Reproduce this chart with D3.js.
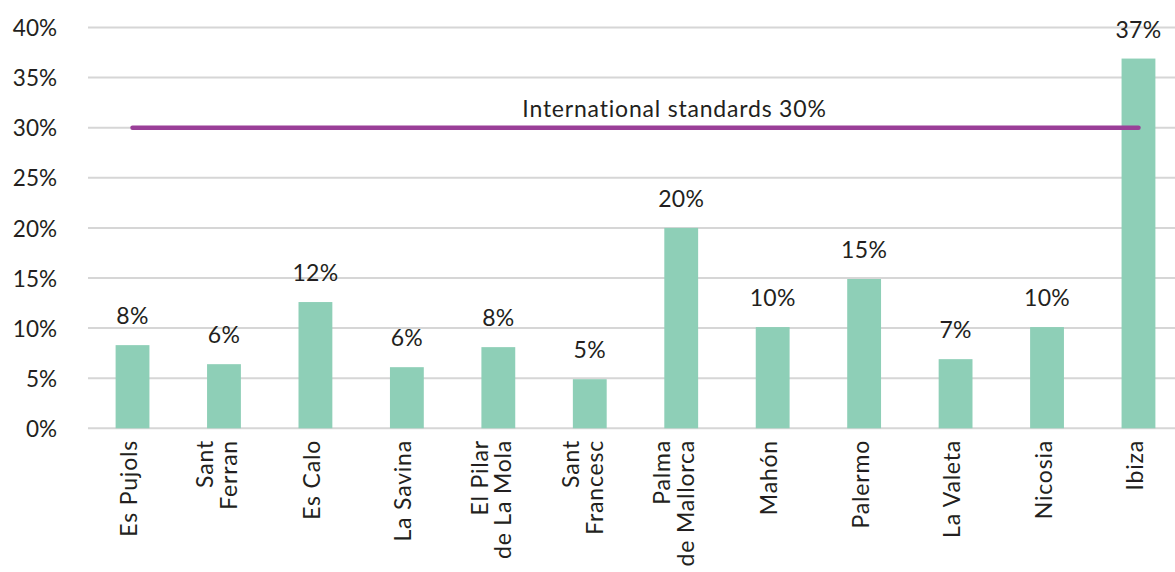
<!DOCTYPE html>
<html>
<head>
<meta charset="utf-8">
<script src="https://cdn.jsdelivr.net/npm/d3@7"></script>
<style>
  html, body { margin: 0; padding: 0; background: #fff; }
  svg { display: block; }
  text { font-family: Lato, "Open Sans", sans-serif; fill: #231f20; }
</style>
</head>
<body>
<svg id="chart" width="1175" height="572"></svg>
<script>
// ---- data ----
const categories = ["Es Pujols", "Sant\nFerran", "Es Calo", "La Savina", "El Pilar\nde La Mola", "Sant\nFrancesc",
                    "Palma\nde Mallorca", "Mahón", "Palermo", "La Valeta", "Nicosia", "Ibiza"];
const values = [8.3, 6.4, 12.6, 6.1, 8.1, 4.9, 20.0, 10.1, 14.9, 6.9, 10.1, 36.9];
const valueLabels = ["8%", "6%", "12%", "6%", "8%", "5%", "20%", "10%", "15%", "7%", "10%", "37%"];
const yTicks = [0, 5, 10, 15, 20, 25, 30, 35, 40];
const standardValue = 30;
const standardLabel = "International standards 30%";

// ---- layout ----
const svg = d3.select("#chart");
const x = d3.scaleBand().domain(categories).range([86.8, 1184.2]).paddingInner(0.63).paddingOuter(0.315);
const y = d3.scaleLinear().domain([0, 40]).range([428.3, 27.5]);

// gridlines
svg.append("g").selectAll("line").data(yTicks).join("line")
  .attr("x1", 88).attr("x2", 1184)
  .attr("y1", d => y(d)).attr("y2", d => y(d))
  .attr("stroke", "#d6d6d6").attr("stroke-width", 2);

// y axis labels
const yAxis = d3.axisLeft(y).tickValues(yTicks).tickFormat(d => d + "%").tickSize(0).tickPadding(0);
const gy = svg.append("g").attr("transform", "translate(57,0)").call(yAxis);
gy.select(".domain").remove();
gy.selectAll("text").style("font-size", "22.5px").style("font-family", "Lato, sans-serif").attr("fill", "#231f20").attr("dy", "0.36em");

// bars
svg.append("g").selectAll("rect").data(values).join("rect")
  .attr("x", (d, i) => x(categories[i]))
  .attr("width", x.bandwidth())
  .attr("y", d => y(d))
  .attr("height", d => y(0) - y(d))
  .attr("fill", "#8ecfb7");

// value labels
svg.append("g").selectAll("text").data(values).join("text")
  .attr("x", (d, i) => x(categories[i]) + x.bandwidth() / 2)
  .attr("y", d => y(d) - 21)
  .attr("text-anchor", "middle")
  .style("font-size", "23px")
  .style("letter-spacing", "0.3px")
  .text((d, i) => valueLabels[i]);

// standard line
const xFirst = x(categories[0]) + x.bandwidth() / 2;
const xLast = x(categories[categories.length - 1]) + x.bandwidth() / 2;
svg.append("line")
  .attr("x1", xFirst).attr("x2", xLast)
  .attr("y1", y(standardValue)).attr("y2", y(standardValue))
  .attr("stroke", "#9a3f98").attr("stroke-width", 4.5).attr("stroke-linecap", "round");
svg.append("text")
  .attr("x", (xFirst + xLast) / 2 + 39)
  .attr("y", y(standardValue) - 10.5)
  .attr("text-anchor", "middle")
  .style("font-size", "23px")
  .style("letter-spacing", "0.8px")
  .text(standardLabel);

// x category labels (rotated)
const lineStep = 23.5;
const gx = svg.append("g");
categories.forEach(c => {
  const lines = c.split("\n");
  const n = lines.length;
  const cx = x(c) + x.bandwidth() / 2;
  lines.forEach((ln, i) => {
    const lx = cx - 3.5 + (i - (n - 1) / 2) * lineStep - (n - 1) * 3.5;
    gx.append("text")
      .attr("transform", `translate(${lx + 8},440) rotate(-90)`)
      .attr("text-anchor", "end")
      .style("font-size", "23px")
      .style("letter-spacing", "0.8px")
      .text(ln);
  });
});
</script>
</body>
</html>
